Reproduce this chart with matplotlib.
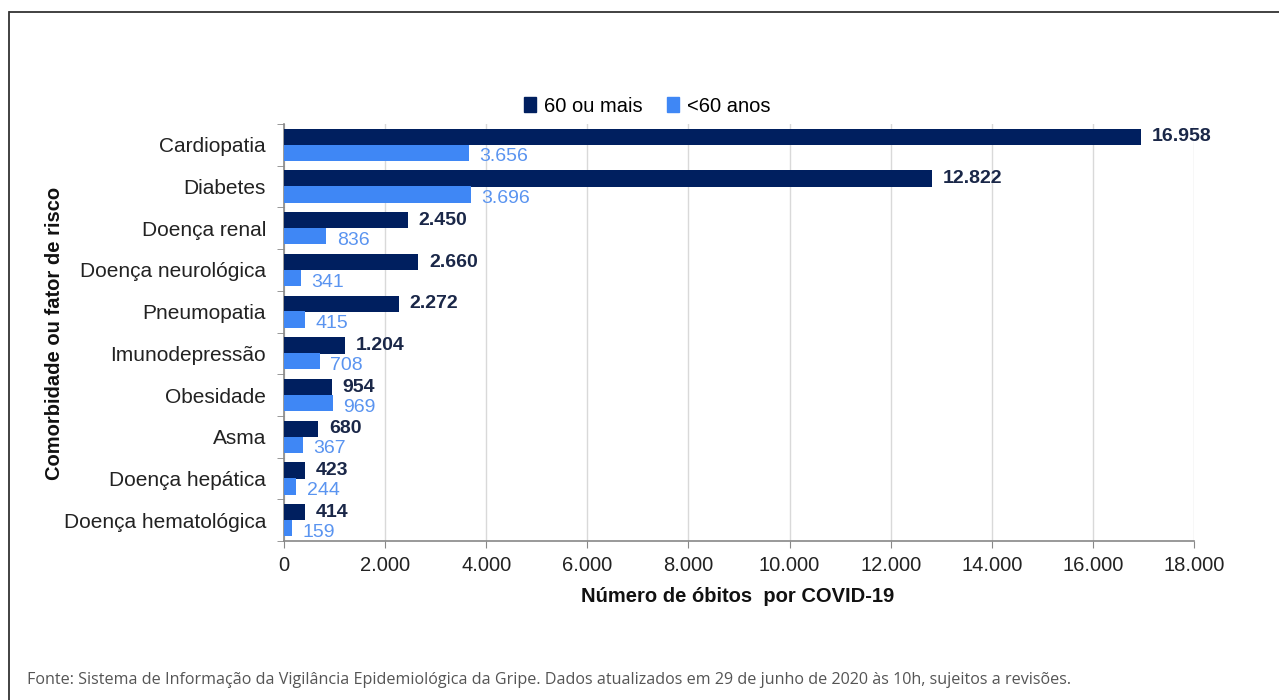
import numpy as np
import matplotlib
matplotlib.use("Agg")
from matplotlib import pyplot as plt
from matplotlib.lines import Line2D
from matplotlib.patches import Patch

# dados do grafico
categorias = ["Cardiopatia", "Diabetes", "Doença renal", "Doença neurológica",
              "Pneumopatia", "Imunodepressão", "Obesidade", "Asma",
              "Doença hepática", "Doença hematológica"]
mais60 = [16958, 12822, 2450, 2660, 2272, 1204, 954, 680, 423, 414]
menos60 = [3656, 3696, 836, 341, 415, 708, 969, 367, 244, 159]
series = ["60 ou mais", "<60 anos"]
xticks = [0, 2000, 4000, 6000, 8000, 10000, 12000, 14000, 16000, 18000]

escuro = "#001f5f"
claro = "#3f87f5"
txt_claro = "#5a94f0"

plt.rcParams['font.family'] = ['Liberation Sans', 'DejaVu Sans']

def fmt(v):
    return "{:,}".format(v).replace(",", ".")

fig = plt.figure(figsize=(12.79, 7), dpi=100)
ax = fig.add_axes([284/1279, 1-541/700, 910/1279, 417/700])

y = np.arange(len(categorias))
h = 0.39
ax.barh(y - 0.19, mais60, height=h, color=escuro, zorder=3)
ax.barh(y + 0.19, menos60, height=h, color=claro, zorder=3)

for i in range(len(categorias)):
    ax.annotate(fmt(mais60[i]), (mais60[i], y[i] - 0.19), xytext=(7.5, 0),
                textcoords="offset points", ha="left", va="center",
                fontsize=14, fontweight="bold", color="#1a2748")
    ax.annotate(fmt(menos60[i]), (menos60[i], y[i] + 0.19), xytext=(7.5, -3),
                textcoords="offset points", ha="left", va="center",
                fontsize=14, color=txt_claro)

ax.set_ylim(len(categorias) - 0.5, -0.5)
ax.set_xlim(0, 18000)
ax.set_yticks(y)
ax.set_yticklabels(categorias, fontsize=15, color="#222222")
ax.set_yticks(np.arange(len(categorias) + 1) - 0.5, minor=True)
ax.tick_params(axis="y", which="major", length=0, pad=13)
ax.tick_params(axis="y", which="minor", length=5, color="#888888", direction="out")
ax.set_xticks(xticks)
ax.set_xticklabels([fmt(v) for v in xticks], fontsize=14.5, color="#222222")
ax.tick_params(axis="x", length=5, color="#888888", pad=6)

ax.grid(axis="x", color="#d9d9d9", linewidth=1, zorder=0)
for s in ["top", "right"]:
    ax.spines[s].set_visible(False)
for s in ["left", "bottom"]:
    ax.spines[s].set_color("#888888")
    ax.spines[s].set_linewidth(1.2)

handles = [Patch(color=escuro), Patch(color=claro)]
fig.legend(handles, series, loc="center", bbox_to_anchor=(647/1279, 1-106/700),
           ncol=2, frameon=False, fontsize=14.5, handlelength=0.6,
           handleheight=0.8, handletextpad=0.4, columnspacing=1.2)

fig.text(738/1279, 1-597/700, "Número de óbitos  por COVID-19", ha="center",
         va="center", fontsize=14.5, fontweight="bold", color="#111111")
fig.text(55/1279, 1-333/700, "Comorbidade ou fator de risco", rotation=90,
         ha="center", va="center", fontsize=14.5, fontweight="bold", color="#111111")

fig.text(27/1279, 1-680/700,
         "Fonte: Sistema de Informação da Vigilância Epidemiológica da Gripe. "
         "Dados atualizados em 29 de junho de 2020 às 10h, sujeitos a revisões.",
         ha="left", va="center", fontsize=11.6, color="#555555", family="Open Sans")

# moldura
fig.add_artist(Line2D([10/1279, 1], [1-12/700, 1-12/700], color="#333333", linewidth=1.3))
fig.add_artist(Line2D([9/1279, 9/1279], [0, 1-12/700], color="#333333", linewidth=1.3))

fig.savefig("out.png", dpi=100)
